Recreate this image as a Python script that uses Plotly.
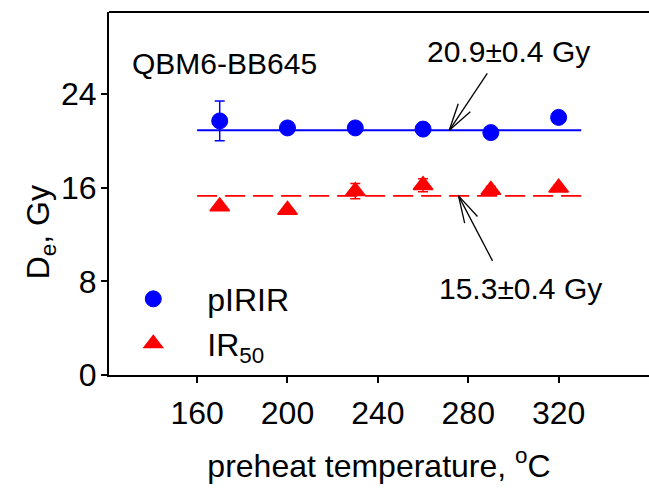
import plotly.graph_objects as go
import math

# ---- data ----
temps = [170, 200, 230, 260, 290, 320]
pirir_de = [21.7, 21.1, 21.1, 21.0, 20.7, 22.0]
pirir_err = [1.7, 0, 0, 0, 0, 0]
ir50_de = [14.4, 14.1, 15.7, 16.2, 15.8, 16.0]
ir50_err = [0, 0, 0.65, 0.55, 0.3, 0.2]
fit_x = [160, 330]
pirir_mean = 20.9
ir50_mean = 15.3
x_ticks = [160, 200, 240, 280, 320]
y_ticks = [0, 8, 16, 24]

FONT = "Liberation Sans, Arial, sans-serif"
BLUE = "#0000ff"
RED = "#ff0000"

fig = go.Figure()

fig.add_trace(go.Scatter(x=fit_x, y=[pirir_mean] * 2, mode="lines",
                         line=dict(color=BLUE, width=1.8), showlegend=False, hoverinfo="skip"))
fig.add_trace(go.Scatter(x=fit_x, y=[ir50_mean] * 2, mode="lines",
                         line=dict(color=RED, width=1.8, dash="20px,8px"), showlegend=False, hoverinfo="skip"))

fig.add_trace(go.Scatter(x=temps, y=pirir_de, mode="markers", name="pIRIR",
                         marker=dict(symbol="circle", size=16, color=BLUE, line=dict(color=BLUE, width=1)),
                         error_y=dict(type="data", array=pirir_err, color=BLUE, thickness=1.5, width=5)))
fig.add_trace(go.Scatter(x=temps, y=ir50_de, mode="markers", name="IR<sub>50</sub>",
                         marker=dict(symbol="triangle-up", size=17, color=RED, line=dict(color=RED, width=1.5)),
                         error_y=dict(type="data", array=ir50_err, color=RED, thickness=1.5, width=5)))

# annotation labels
fig.add_annotation(x=297.7, y=27.6, text="20.9±0.4 Gy", showarrow=False,
                   font=dict(size=30, color="black", family=FONT))
fig.add_annotation(x=303, y=7.4, text="15.3±0.4 Gy", showarrow=False,
                   font=dict(size=30, color="black", family=FONT))
fig.add_annotation(xref="paper", yref="paper", x=0.039, y=0.909, xanchor="left",
                   text="QBM6-BB645", showarrow=False,
                   font=dict(size=30, color="black", family=FONT))
fig.add_annotation(xref="paper", yref="paper", x=-0.167, y=0.394, textangle=-90,
                   text="D<sub>e</sub>, Gy", showarrow=False,
                   font=dict(size=32, color="black", family=FONT))


def arrow(xh, yh, dx, dy, head_len=28, spread=15):
    """dx, dy: pixel offset of arrow tail from head (dy positive = up)"""
    shapes = [dict(type="line", xref="x", yref="y", xsizemode="pixel", ysizemode="pixel",
                   xanchor=xh, yanchor=yh, x0=0, y0=0, x1=dx, y1=dy,
                   line=dict(color="black", width=1.3))]
    ang = math.atan2(dy, dx)
    for s in (-spread, spread):
        a = ang + math.radians(s)
        shapes.append(dict(type="line", xref="x", yref="y", xsizemode="pixel", ysizemode="pixel",
                           xanchor=xh, yanchor=yh, x0=0, y0=0,
                           x1=head_len * math.cos(a), y1=head_len * math.sin(a),
                           line=dict(color="black", width=1.3)))
    return shapes


shapes = arrow(271.6, pirir_mean, 38, 57) + arrow(275.7, ir50_mean, 34, -65)
fig.update_layout(shapes=shapes)

fig.update_layout(
    width=649, height=488,
    margin=dict(l=109, r=0, t=12, b=113),
    paper_bgcolor="white", plot_bgcolor="white",
    font=dict(family=FONT, size=32, color="black"),
    showlegend=True,
    legend=dict(x=-0.018, y=0.285, xanchor="left", yanchor="top", bgcolor="rgba(0,0,0,0)",
                font=dict(size=32), itemwidth=98),
    xaxis=dict(range=[121, 360], tickvals=x_ticks, ticks="outside", ticklen=6, tickwidth=1.5,
               tickcolor="black", showline=True, linecolor="black", linewidth=2,
               showgrid=False, zeroline=False, mirror=False, ticklabelstandoff=3,
               tickfont=dict(size=32),
               title=dict(text="preheat temperature, <sup>o</sup>C", standoff=24,
                          font=dict(size=32))),
    yaxis=dict(range=[0, 31], tickvals=y_ticks, ticks="outside", ticklen=6, tickwidth=1.5,
               tickcolor="black", showline=True, linecolor="black", linewidth=2,
               tickfont=dict(size=32), ticklabelstandoff=-2,
               showgrid=False, zeroline=False),
)
# top border line
fig.add_shape(type="line", xref="paper", yref="paper", x0=0, x1=1, y0=1, y1=1,
              line=dict(color="black", width=2))

fig.write_html("out.html")
